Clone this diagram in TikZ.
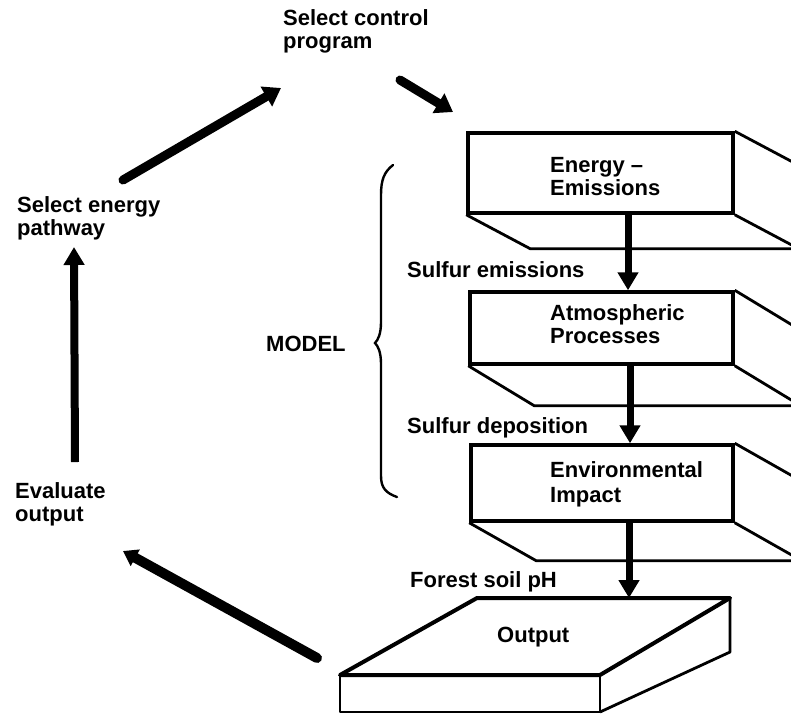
\documentclass[tikz,border=0pt]{standalone}
\usepackage{fontspec}
\setmainfont{Liberation Sans}
\usetikzlibrary{arrows.meta}
\begin{document}
\begin{tikzpicture}[x=1pt,y=-1pt,
  lbl/.style={inner sep=0pt,align=left,anchor=north west,font=\fontsize{22}{23}\selectfont\bfseries},
  front/.style={draw,line width=3.5pt,inner sep=0pt},
  slab/.style={line width=2.8pt,line join=round},
  bigarrow/.style={line width=9pt,line cap=round,-{Triangle[length=17pt,width=22pt]}},
  flow/.style={line width=7pt,-{Triangle[length=18pt,width=20pt]}}]
\useasboundingbox (0,0) rectangle (791,716);
\clip (0,0) rectangle (791,716);

% labels
\node[lbl] (control) at (283,9) {Select control\\program};
\node[lbl] (energy) at (17,196) {Select energy\\pathway};
\node[lbl] (evaluate) at (15,482) {Evaluate\\output};
\node[lbl,font=\fontsize{22}{23}\selectfont\bfseries] (model) at (266,336) {MODEL};
\node[lbl] (sulfem) at (407,261) {Sulfur emissions};
\node[lbl] (sulfdep) at (407,417) {Sulfur deposition};
\node[lbl] (forest) at (410,571) {Forest soil pH};

% box 1
\node[front,minimum width=265pt,minimum height=80pt] (b1) at (600.5,173) {};
\draw[slab] (b1.south west) -- ++(64,34) -- ++(270,0);
\draw[slab] (b1.south east) -- ++(64,34);
\draw[slab] (b1.north east) -- ++(64,34) -- ++(0,80);
\node[lbl] (t1) at (550,157) {Energy --\\Emissions};

% box 2
\node[front,minimum width=263pt,minimum height=72pt] (b2) at (601.5,328) {};
\draw[slab] (b2.south west) -- ++(66,40) -- ++(270,0);
\draw[slab] (b2.south east) -- ++(66,40);
\draw[slab] (b2.north east) -- ++(66,40) -- ++(0,72);
\node[lbl] (t2) at (550,304) {Atmospheric\\Processes};

% box 3
\node[front,minimum width=262pt,minimum height=76pt] (b3) at (602,483) {};
\draw[slab] (b3.south west) -- ++(67,38) -- ++(270,0);
\draw[slab] (b3.south east) -- ++(67,38);
\draw[slab] (b3.north east) -- ++(67,38) -- ++(0,76);
\node[lbl,font=\fontsize{22}{25}\selectfont\bfseries] (t3) at (550,461) {Environmental\\Impact};

% output slab
\coordinate (obl) at (477,598);
\coordinate (obr) at (730,598);
\coordinate (ofr) at (600,675);
\coordinate (ofl) at (340,675);
\draw[slab] (ofl) rectangle (600,712);
\draw[slab] (ofr) -- (obr) -- (730,652) -- (600,712);
\draw[line width=4pt,line join=round] (obl) -- (obr) -- (ofr) -- (ofl) -- cycle;
\node[lbl] (out) at (497,627) {Output};
\coordinate (outtop) at (629,598);

% flow arrows between boxes
\draw[flow] (b1.south -| 628,0) -- (b2.north -| 628,0);
\draw[flow] (b2.south -| 630,0) -- (b3.north -| 630,0);
\draw[flow] (b3.south -| 629,0) -- (outtop);

% big loop arrows
\coordinate (a1s) at (123,180);
\coordinate (a1e) at (281,88);
\coordinate (a2s) at (400,80);
\coordinate (a2e) at (453,112);
\coordinate (a3s) at (75,462);
\coordinate (a3e) at (74,247);
\coordinate (a4s) at (317,658);
\coordinate (a4e) at (123,551);
\draw[bigarrow] (a1s) -- (a1e);
\draw[bigarrow] (a2s) -- (a2e);
\draw[line width=8pt,-{Triangle[length=18pt,width=20pt]}] (a3s) -- (a3e);
\draw[line width=10pt,line cap=round,-{Triangle[length=14pt,width=18pt]}] (a4s) -- (a4e);

% brace
\draw[line width=2.4pt,line cap=round] (393,165) .. controls (384,172) and (381,180) .. (381,195) -- (381,322)
  .. controls (381,334) and (378,340) .. (375,343)
  .. controls (378,346) and (381,352) .. (381,364) -- (381,476)
  .. controls (381,488) and (386,493) .. (397,497);
\end{tikzpicture}
\end{document}
